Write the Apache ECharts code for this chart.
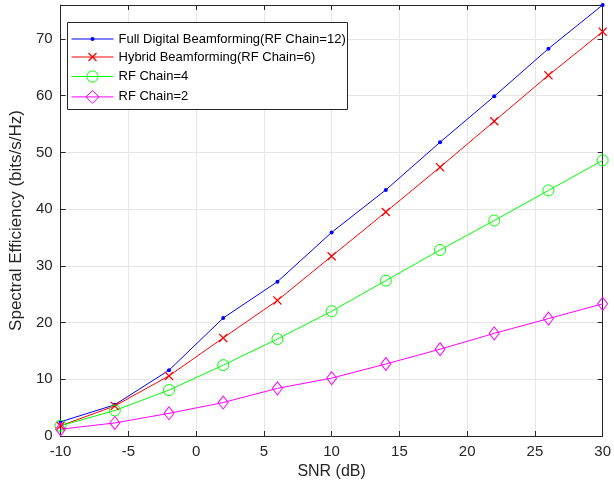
<!DOCTYPE html>
<html>
<head>
<meta charset="utf-8">
<script src="https://cdn.jsdelivr.net/npm/echarts@6/dist/echarts.min.js"></script>
<style>
    html, body {margin: 0; padding: 0; background: #fff;}
    #chart {width: 614px; height: 490px;}
</style>
</head>
<body>
<div id="chart"></div>
<script>
var snr = [-10, -6, -2, 2, 6, 10, 14, 18, 22, 26, 30];
var fullDigital = [2.5, 5.5, 11.6, 20.8, 27.2, 35.9, 43.4, 51.8, 59.9, 68.3, 76.0];
var hybrid6 = [1.8, 5.3, 10.6, 17.3, 23.9, 31.7, 39.5, 47.4, 55.5, 63.6, 71.3];
var rf4 = [1.8, 4.5, 8.1, 12.5, 17.1, 22.0, 27.4, 32.8, 38.0, 43.3, 48.6];
var rf2 = [1.2, 2.3, 4.0, 5.9, 8.4, 10.2, 12.7, 15.3, 18.1, 20.7, 23.3];
var names = ['Full Digital Beamforming(RF Chain=12)', 'Hybrid Beamforming(RF Chain=6)', 'RF Chain=4', 'RF Chain=2'];
var colors = ['#0000ff', '#ff0000', '#00ff00', '#ff00ff'];

var axisColor = '#262626';
var gridColor = '#e6e6e6';
var font = 'Liberation Sans, Arial, sans-serif';
// filled cross shape, drawn as an outline so it fills like a normal symbol
var crossPath = 'path://M0,1L1,0L5,4L9,0L10,1L6,5L10,9L9,10L5,6L1,10L0,9L4,5Z';

function pairs(ys) {
    return snr.map(function (x, i) { return [x, ys[i]]; });
}

function mkSeries(name, ys, color, symbol, size, filled) {
    return {
        name: name,
        type: 'line',
        data: pairs(ys),
        symbol: symbol,
        symbolSize: size,
        showAllSymbol: true,
        color: color,
        lineStyle: {color: color, width: 1},
        itemStyle: filled
            ? {color: color, borderWidth: 0}
            : {color: 'rgba(0,0,0,0)', borderColor: color, borderWidth: 1}
    };
}

var series = [
    mkSeries(names[0], fullDigital, colors[0], 'circle', 4, true),
    mkSeries(names[1], hybrid6, colors[1], crossPath, 9, true),
    mkSeries(names[2], rf4, colors[2], 'circle', 11, false),
    mkSeries(names[3], rf2, colors[3], 'diamond', [10, 13], false)
];

// one legend per row so each icon keeps its own marker size (legend marker = 0.8 * itemHeight)
var rowMid = [35, 56, 77, 98];
var iconH = [5, 11, 14, 16];
var legends = names.map(function (n, i) {
    var lg = {
        data: [n],
        left: 71,
        top: rowMid[i] - iconH[i] / 2,
        padding: 0,
        itemWidth: 42,
        itemHeight: iconH[i],
        itemGap: 5,
        z: 6,
        lineStyle: {width: 1},
        textStyle: {color: '#000', fontFamily: font, fontSize: 13}
    };
    if (i >= 2) lg.itemStyle = {borderWidth: 1};
    return lg;
});

var sideAxis = {
    axisLine: {show: true, onZero: false, lineStyle: {color: axisColor}},
    axisTick: {show: true, inside: true, length: 5, lineStyle: {color: axisColor}},
    axisLabel: {show: false},
    splitLine: {show: false}
};

var chart = echarts.init(document.getElementById('chart'));
chart.setOption({
    backgroundColor: '#fff',
    animation: false,
    grid: {left: 49, right: 9, top: 5, bottom: 54},
    legend: legends,
    graphic: [{
        type: 'rect',
        z: 5,
        shape: {x: 67.5, y: 22.5, width: 280, height: 87},
        style: {fill: '#fff', stroke: axisColor, lineWidth: 1}
    }],
    xAxis: [{
        type: 'value',
        min: -10, max: 30, interval: 5,
        name: 'SNR (dB)',
        nameLocation: 'middle',
        nameGap: 27,
        nameTextStyle: {color: axisColor, fontFamily: font, fontSize: 16},
        axisLine: {onZero: false, lineStyle: {color: axisColor}},
        axisTick: {inside: true, length: 5, lineStyle: {color: axisColor}},
        axisLabel: {color: axisColor, fontFamily: font, fontSize: 15, margin: 8},
        splitLine: {show: true, lineStyle: {color: gridColor}}
    }, Object.assign({
        type: 'value', position: 'top', min: -10, max: 30, interval: 5
    }, sideAxis)],
    yAxis: [{
        type: 'value',
        min: 0, max: 76, interval: 10,
        name: 'Spectral Efficiency (bits/s/Hz)',
        nameLocation: 'middle',
        nameGap: 25,
        nameTextStyle: {color: axisColor, fontFamily: font, fontSize: 17},
        axisLine: {show: true, onZero: false, lineStyle: {color: axisColor}},
        axisTick: {show: true, inside: true, length: 5, lineStyle: {color: axisColor}},
        axisLabel: {color: axisColor, fontFamily: font, fontSize: 15, margin: 8, showMaxLabel: false},
        splitLine: {show: true, lineStyle: {color: gridColor}}
    }, Object.assign({
        type: 'value', position: 'right', min: 0, max: 76, interval: 10
    }, sideAxis)],
    series: series
});
</script>
</body>
</html>
